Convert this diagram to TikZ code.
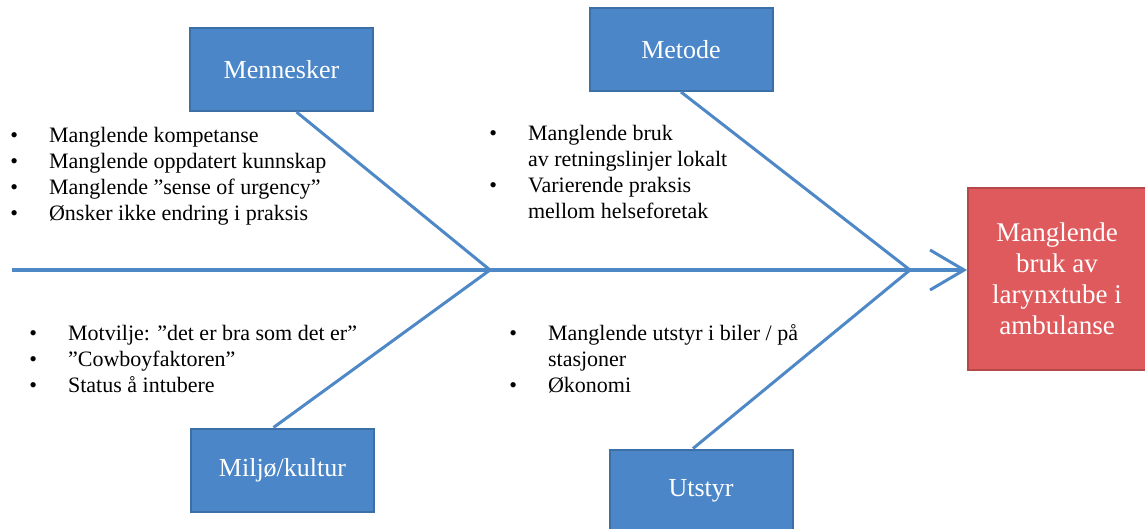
\documentclass[tikz,border=0pt]{standalone}
\usepackage{fontspec}
\setmainfont{Liberation Serif}
\usetikzlibrary{arrows.meta, calc}

\definecolor{boxblue}{HTML}{4A86C8}
\definecolor{boxedge}{HTML}{3B6FA6}
\definecolor{bonecol}{HTML}{4F88C6}
\definecolor{redfill}{HTML}{DF5A5C}
\definecolor{rededge}{HTML}{B5494A}

\begin{document}
\begin{tikzpicture}[x=0.5pt, y=-0.5pt, >=Stealth,
	cat/.style={draw=boxedge, line width=1pt, fill=boxblue, text=white, minimum width=91.5pt, minimum height=41.5pt, font=\fontsize{13}{15}\selectfont},
	bone/.style={draw=bonecol, line width=1.5pt},
	cause/.style={anchor=west, inner sep=0pt, font=\fontsize{11}{13}\selectfont}]
				\useasboundingbox (0,0) rectangle (1145,529);
				
				\node[cat] (men) at (281.5,69.5) {Mennesker};
				\node[cat] (met) at (681,49.5) {Metode};
				\node[cat] (mil) at (282.5,470) {Miljø/kultur};
				\node[cat] (uts) at (701,491) {Utstyr};
				
				\node[cat, fill=redfill, draw=rededge, minimum width=89pt, minimum height=91pt, align=center, font=\fontsize{13.5}{15.5}\selectfont] (res) at (1057,279) {Manglende\\bruk av\\larynxtube i\\ambulanse};
				
				\coordinate (s0) at (12,270);
				\coordinate (j1) at (490,270);
				\coordinate (j2) at (910,270);
				
				\draw[bone, -{Straight Barb[length=17pt, width=20pt]}] (s0) -- (s0 -| res.west);
				\draw[bone] ($(men.south)+(15,0)$) -- (j1);
				\draw[bone] ($(mil.north)+(-9,0)$) -- (j1);
				\draw[bone] (met.south) -- (j2);
				\draw[bone] ($(uts.north)+(-8,0)$) -- (j2);
				
				\node[cause] (lmen) at (10,176) {\begin{tabular}{@{}l@{\hspace{15.5pt}}l@{}}
					\textbullet & Manglende kompetanse\\
					\textbullet & Manglende oppdatert kunnskap\\
					\textbullet & Manglende ”sense of urgency”\\
					\textbullet & Ønsker ikke endring i praksis
				\end{tabular}};
				\node[cause] (lmet) at (489,174) {\begin{tabular}{@{}l@{\hspace{15.5pt}}l@{}}
					\textbullet & Manglende bruk\\
					 & av retningslinjer lokalt\\
					\textbullet & Varierende praksis\\
					 & mellom helseforetak
				\end{tabular}};
				\node[cause] (lmil) at (29,361) {\begin{tabular}{@{}l@{\hspace{15.5pt}}l@{}}
					\textbullet & Motvilje: ”det er bra som det er”\\
					\textbullet & ”Cowboyfaktoren”\\
					\textbullet & Status å intubere
				\end{tabular}};
				\node[cause] (luts) at (509,361) {\begin{tabular}{@{}l@{\hspace{15.5pt}}l@{}}
					\textbullet & Manglende utstyr i biler / på\\
					 & stasjoner\\
					\textbullet & Økonomi
				\end{tabular}};
			\end{tikzpicture}
\end{document}
